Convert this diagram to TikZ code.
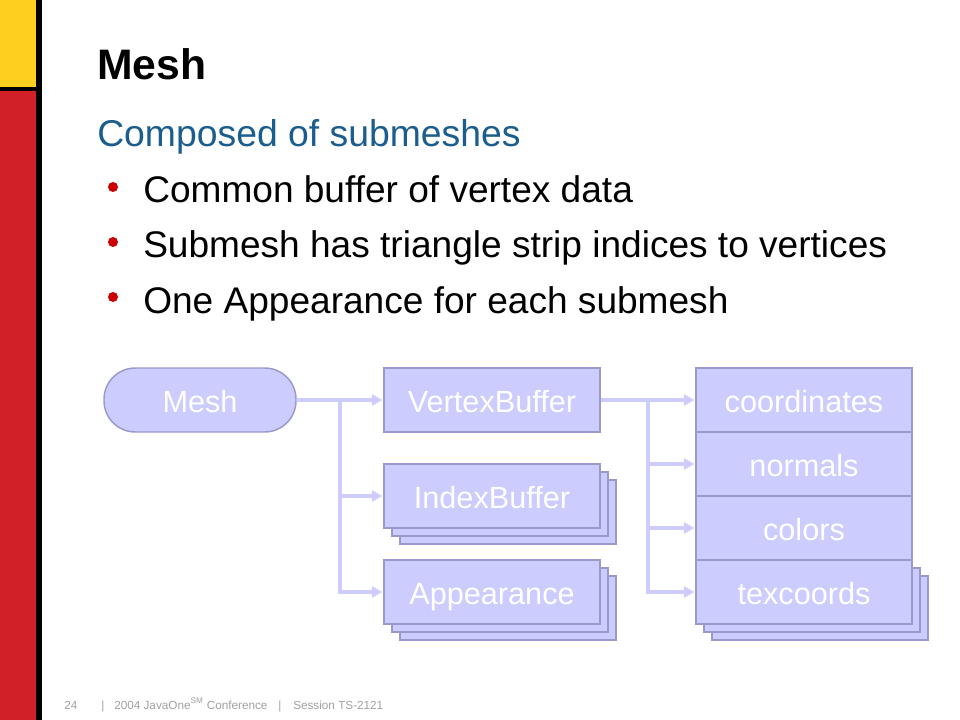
\documentclass[tikz,border=0pt]{standalone}
\usepackage{fontspec}
\setmainfont{Liberation Sans}
\usetikzlibrary{arrows.meta}
\definecolor{barY}{HTML}{FFCF1F}
\definecolor{barR}{HTML}{D12027}
\definecolor{subblue}{HTML}{1B5E8E}
\definecolor{bulred}{HTML}{CC0000}
\definecolor{boxfill}{HTML}{CCCCFF}
\definecolor{boxline}{HTML}{9999CC}
\definecolor{linkc}{HTML}{CCCCFF}
\definecolor{footg}{HTML}{A0A0A0}
\tikzset{
  txt/.style={anchor=base west, inner sep=0pt},
  titletxt/.style={txt, font=\fontsize{32pt}{36pt}\selectfont\bfseries},
  subtxt/.style={txt, text=subblue, font=\fontsize{28pt}{32pt}\selectfont},
  bultxt/.style={txt, font=\fontsize{27.8pt}{32pt}\selectfont},
  bulletdot/.style={circle, fill=bulred, inner sep=0pt, minimum size=7.5pt},
  foottxt/.style={txt, text=footg, font=\fontsize{8.8pt}{10pt}\selectfont},
  dbox/.style={draw=boxline, fill=boxfill, line width=1.1pt, text=white,
     minimum width=162pt, minimum height=48pt, inner sep=0pt,
     text height=20pt, text depth=2pt,
     font=\fontsize{23pt}{26pt}\selectfont},
  sbox/.style={dbox},
  pill/.style={dbox, minimum width=144pt, rounded corners=23.5pt},
  link/.style={draw=linkc, line width=3pt},
  arr/.style={link, -{Triangle[length=8pt,width=8pt]}, shorten >=0.5pt},
}
\begin{document}
\begin{tikzpicture}[x=0.75pt, y=-0.75pt]
\useasboundingbox (0,0) rectangle (960,720);
% side bar
\fill[barY] (0,0) rectangle (36,87);
\fill[black] (0,87) rectangle (36,91);
\fill[barR] (0,91) rectangle (36,720);
\fill[black] (36,0) rectangle (42,720);
% texts
\node[titletxt] (title) at (97,80) {Mesh};
\node[subtxt] (sub) at (97,147) {Composed of submeshes};
\node[bulletdot] (b1) at (113,187) {};
\node[bulletdot] (b2) at (113,242) {};
\node[bulletdot] (b3) at (113,297) {};
\node[bultxt] (t1) at (143,203) {Common buffer of vertex data};
\node[bultxt] (t2) at (143,258) {Submesh has triangle strip indices to vertices};
\node[bultxt] (t3) at (143,313) {One Appearance for each submesh};
% diagram
\node[pill] (mesh) at (200,400) {Mesh};
\node[dbox] (vb) at (492,400) {VertexBuffer};
\node[sbox] (ib3) at (508,512) {};
\node[sbox] (ib2) at (500,504) {};
\node[dbox] (ib) at (492,496) {IndexBuffer};
\node[sbox] (ap3) at (508,608) {};
\node[sbox] (ap2) at (500,600) {};
\node[dbox] (ap) at (492,592) {Appearance};
\node[sbox] (tx3) at (820,608) {};
\node[sbox] (tx2) at (812,600) {};
\node[dbox] (co) at (804,400) {coordinates};
\node[dbox] (no) at (804,464) {normals};
\node[dbox] (cl) at (804,528) {colors};
\node[dbox] (tx) at (804,592) {texcoords};
% connectors
\coordinate (j1) at (340,400);
\coordinate (j2) at (648,400);
\draw[arr] (mesh.east) -- (vb.west);
\draw[arr] (j1) |- (ib.west);
\draw[arr] (j1) |- (ap.west);
\draw[arr] (vb.east) -- (co.west);
\draw[arr] (j2) |- (no.west);
\draw[arr] (j2) |- (cl.west);
\draw[arr] (j2) |- (tx.west);
% footer
\node[foottxt] (f1) at (64,709) {24};
\node[foottxt] (f2) at (101,709) {|};
\node[foottxt] (f3) at (114,709) {2004 JavaOne\textsuperscript{SM} Conference};
\node[foottxt] (f4) at (278,709) {|};
\node[foottxt] (f5) at (293,709) {Session TS-2121};
\end{tikzpicture}
\end{document}
